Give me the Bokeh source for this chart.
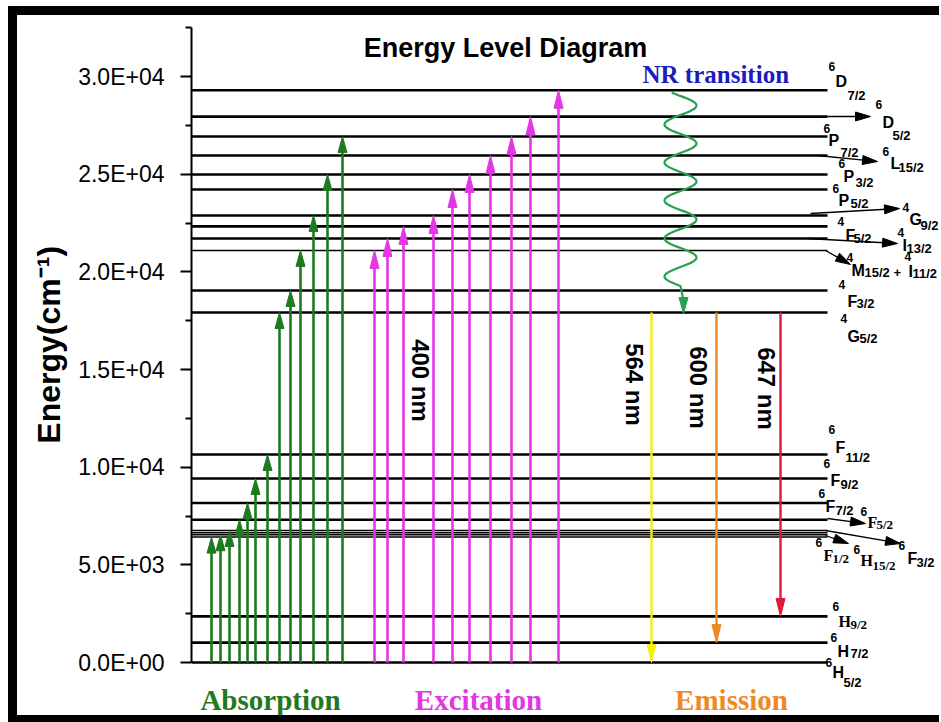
import numpy as np
from bokeh.plotting import figure
from bokeh.models import Range1d, CustomJSTickFormatter, FixedTicker
from bokeh.core.properties import value
from bokeh.embed import file_html
from bokeh.resources import INLINE

# ---------------- data (energies in cm^-1) ----------------
levels = [0, 1020, 2360, 6420, 6540, 6640, 6760, 7310, 8170, 9420, 10650,
          17920, 19050, 21100, 21710, 22330, 22890, 24220, 24990, 25960,
          26930, 27950, 29300]
thin_levels = [6420, 6540, 6640, 6760, 21100]

absorption_top = [6420, 6540, 6760, 7310, 8170, 9420, 10650, 17920, 19050,
                  21100, 22890, 24990, 26930]
excitation_top = [21100, 21710, 22330, 22890, 24220, 24990, 25960, 26930,
                  27950, 29300]
emission_start = 17920
emission_end = [0, 1020, 2360]
emission_names = ["564 nm", "600 nm", "647 nm"]
excitation_name = "400 nm"

y_ticks = [0, 5000, 10000, 15000, 20000, 25000, 30000]
y_minor = [2500, 7500, 12500, 17500, 22500, 27500, 32500]

# term labels: (superscript, letter, subscript, serif)
terms = [
    ("6", "D", "7/2", False), ("6", "D", "5/2", False), ("6", "P", "7/2", False),
    ("6", "L", "15/2", False), ("6", "P", "3/2", False), ("6", "P", "5/2", False),
    ("4", "G", "9/2", False), ("4", "F", "5/2", False), ("4", "I", "13/2", False),
    ("4", "M", "15/2 +", False), ("4", "I", "11/2", False), ("4", "F", "3/2", False),
    ("4", "G", "5/2", False), ("6", "F", "11/2", False), ("6", "F", "9/2", False),
    ("6", "F", "7/2", False), ("6", "F", "5/2", True), ("6", "F", "3/2", False),
    ("6", "H", "15/2", True), ("6", "F", "1/2", True), ("6", "H", "9/2", True),
    ("6", "H", "7/2", False), ("6", "H", "5/2", False),
]

# ---------------- layout (page pixels) ----------------
Y0 = 662.0          # pixel row of 0 cm^-1
K = 19.53 / 1000.0  # pixels per cm^-1
CANVAS_LEFT, CANVAS_TOP = 17, 15
CW, CH = 922, 700


def v(py):
    return (Y0 - py) / K


def px(val):
    return Y0 - val * K


AX_X = 191
LINE_END = 827
abs_x = [211, 220, 229, 239, 247, 255, 267, 279, 290, 300, 313, 327, 342]
exc_x = [374, 387, 403, 433, 452, 469, 490, 511, 530, 558]
emi_x = [651, 716, 780]
term_pos = [
    ((828, 66), (835, 81), (847, 95)), ((875, 104), (882, 122), (892, 135)),
    ((823, 128), (828, 140), (840, 152)), ((882, 151), (890, 163), (898, 167)),
    ((838, 163), (843, 176), (855, 182)), ((832, 188), (838, 200), (850, 203)),
    ((902, 207), (909, 219), (920, 225)), ((837, 221), (845, 235), (853, 238)),
    ((897, 232), (902, 245), (906, 248)), ((846, 257), (851, 270), (864, 272)),
    ((904, 256), (908, 271), (912, 273)), ((838, 284), (847, 301), (856, 303)),
    ((840, 318), (847, 336), (859, 338)), ((828, 429), (835, 447), (845, 457)),
    ((823, 463), (830, 480), (840, 484)), ((818, 493), (825, 506), (835, 510)),
    ((860, 511), (867, 522), (876, 524)), ((898, 545), (907, 558), (916, 562)),
    ((853, 549), (860, 560), (872, 565)), ((815, 542), (823, 555), (832, 558)),
    ((832, 606), (838, 621), (850, 624)), ((830, 637), (837, 651), (850, 653)),
    ((825, 662), (832, 672), (843, 682)),
]
# black pointer arrows (page px)
pointers = [((827, 116), (870, 116)), ((817, 155), (877, 161)),
            ((810, 213), (899, 208)), ((807, 238), (897, 243)),
            ((825, 250), (850, 264)), ((827, 518), (865, 523)),
            ((825, 530), (900, 543)), ((825, 535), (848, 543))]

GREEN = "#1f7a1f"
MAGENTA = "#e436e4"
EMI_COLORS = ["#f4ee12", "#ee8a1f", "#e2173d"]
SANS = value("Liberation Sans")
SERIF = value("Liberation Serif")

FRAME_TOP = 27
FRAME_BOTTOM = CANVAS_TOP + CH
p = figure(width=CW, height=CH, output_backend="svg", toolbar_location=None,
           x_range=Range1d(AX_X, CANVAS_LEFT + CW),
           y_range=Range1d(v(FRAME_BOTTOM), v(FRAME_TOP)),
           min_border_left=AX_X - CANVAS_LEFT, min_border_right=0,
           min_border_top=FRAME_TOP - CANVAS_TOP, min_border_bottom=0,
           outline_line_color=None,
           background_fill_color="white", border_fill_color="white")
# black picture frame drawn as shadows outside the plot box (no layout effect)
p.styles = {
    "margin-left": "17px", "margin-top": "15px",
    "box-shadow": "-9px 0 0 0 black, 0 -9px 0 0 black, -9px -9px 0 0 black, "
                  "0 7px 0 0 black, -9px 7px 0 0 black",
}
p.xaxis.visible = False
p.grid.visible = False

ax = p.yaxis[0]
ax.bounds = (0, 32500)
ax.ticker = FixedTicker(ticks=y_ticks, minor_ticks=y_minor)
ax.formatter = CustomJSTickFormatter(code="""
let s = tick.toExponential(1).toUpperCase();
let parts = s.split("E");
let e = parts[1]; let sign = e[0]; let d = e.slice(1);
if (d.length < 2) { d = "0" + d; }
return parts[0] + "E" + sign + d;
""")
ax.axis_line_width = 2
ax.major_tick_line_width = 2
ax.minor_tick_line_width = 2
ax.major_tick_out = 11
ax.major_tick_in = 0
ax.minor_tick_out = 6
ax.minor_tick_in = 0
ax.major_label_standoff = 16
ax.major_label_text_font = "Liberation Sans"
ax.major_label_text_font_size = "23px"
ax.major_label_text_color = "black"
# leading no-break spaces lift the visible label towards the axis middle
ax.axis_label = "\u00a0" * 6 + "Energy(cm\u207b\u00b9)"
ax.axis_label_text_font = "Liberation Sans"
ax.axis_label_text_font_style = "bold"
ax.axis_label_text_font_size = "32px"
ax.axis_label_text_color = "black"
ax.axis_label_standoff = 8

# energy levels
lw = [1.5 if e in thin_levels else 2.6 for e in levels]
p.segment(x0=[AX_X] * len(levels), y0=levels, x1=[LINE_END] * len(levels),
          y1=levels, line_color="black", line_width=lw)


def heads(tips, froms, L, Wd):
    xs, ys = [], []
    for (tx, ty), (fx, fy) in zip(tips, froms):
        tpy, fpy = px(ty), px(fy)
        dx, dy = tx - fx, tpy - fpy
        n = (dx * dx + dy * dy) ** 0.5
        ux, uy = dx / n, dy / n
        bx, by = tx - L * ux, tpy - L * uy
        qx, qy = -uy * Wd / 2, ux * Wd / 2
        xs.append([tx, bx + qx, bx - qx])
        ys.append([ty, v(by + qy), v(by - qy)])
    return xs, ys


def arrows(x0, y0, x1, y1, color, width, L, Wd):
    # shorten line so it ends inside the head
    x1s, y1s = [], []
    for a, b, c, d in zip(x0, y0, x1, y1):
        pa, pb, pc, pd = a, px(b), c, px(d)
        n = ((pc - pa) ** 2 + (pd - pb) ** 2) ** 0.5
        f = max(0.0, (n - 0.6 * L) / n)
        x1s.append(pa + (pc - pa) * f)
        y1s.append(v(pb + (pd - pb) * f))
    p.segment(x0=x0, y0=y0, x1=x1s, y1=y1s, line_color=color, line_width=width)
    hx, hy = heads(list(zip(x1, y1)), list(zip(x0, y0)), L, Wd)
    p.patches(xs=hx, ys=hy, fill_color=color, line_color=color, line_width=1)


arrows(abs_x, [0] * len(abs_x), abs_x, absorption_top, GREEN, 2.6, 16, 9)
arrows(exc_x, [0] * len(exc_x), exc_x, excitation_top, MAGENTA, 2.6, 18, 9)
for xx, ye, c in zip(emi_x, emission_end, EMI_COLORS):
    arrows([xx], [emission_start], [xx], [ye], c, 2.4, 18, 9)

# pointer arrows to labels
arrows([a[0] for a, b in pointers], [v(a[1]) for a, b in pointers],
       [b[0] for a, b in pointers], [v(b[1]) for a, b in pointers],
       "black", 1.3, 15, 9)

# non-radiative wavy transition
wy = np.linspace(92, 285.5, 200)
wx = 680 + 16 * np.sin(2 * np.pi * (wy - 95.5) / 38.0)
wx = list(wx) + [683]
wy = list(wy) + [300]
p.line(x=wx, y=[v(t) for t in wy], line_color="#27a04f", line_width=2.2)
hx, hy = heads([(683, v(313))], [(683, v(290))], 16, 9)
p.patches(xs=hx, ys=hy, fill_color="#27a04f", line_color="#27a04f")

# titles / captions (vertically centred)
p.text(x=[505], y=[v(47)], text=["Energy Level Diagram"], text_font=SANS,
       text_font_style="bold", text_font_size="27px", text_align="center",
       text_baseline="middle", text_color="black")
p.text(x=[642], y=[v(74)], text=["NR transition"], text_font=SERIF,
       text_font_style="bold", text_font_size="25px", text_align="left",
       text_baseline="middle", text_color="#1c1cbd")
p.text(x=[270, 478, 731], y=[v(699), v(699), v(699)],
       text=["Absorption", "Excitation", "Emission"], text_font=SERIF,
       text_font_style="bold", text_font_size="29px", text_align="center",
       text_baseline="middle", text_color=[GREEN, MAGENTA, "#ee8a1f"])

# wavelength labels (rotated)
p.text(x=[420] + [634, 698, 766], y=[v(380), v(384), v(387), v(388)],
       text=[excitation_name] + emission_names, angle=-np.pi / 2,
       text_font=SANS, text_font_style="bold", text_font_size="24px",
       text_align="center", text_baseline="middle", text_color="black")

# spectroscopic term labels
for (sup, let, sub, serif), (sp, lp, bp) in zip(terms, term_pos):
    f = SERIF if serif else SANS
    p.text(x=[sp[0]], y=[v(sp[1])], text=[sup], text_font=SANS,
           text_font_style="bold", text_font_size="12px", text_align="left",
           text_baseline="middle", text_color="black")
    p.text(x=[lp[0]], y=[v(lp[1])], text=[let], text_font=f,
           text_font_style="bold", text_font_size="16px", text_align="left",
           text_baseline="middle", text_color="black")
    p.text(x=[bp[0]], y=[v(bp[1])], text=[sub], text_font=f,
           text_font_style="bold", text_font_size="13px", text_align="left",
           text_baseline="middle", text_color="black")

open("out.html", "w").write(file_html(p, INLINE))
